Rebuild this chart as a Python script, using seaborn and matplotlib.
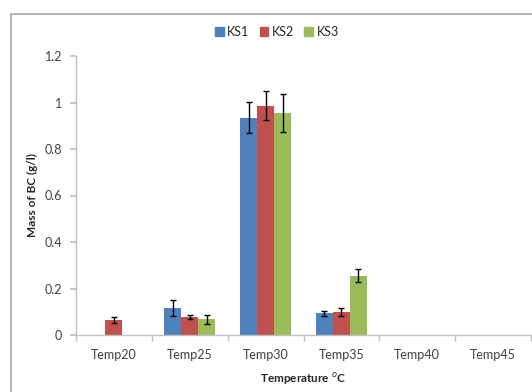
import pandas as pd
import matplotlib.pyplot as plt
import seaborn as sns
from matplotlib.lines import Line2D

# Values
temps = ['Temp20', 'Temp25', 'Temp30', 'Temp35', 'Temp40', 'Temp45']
ks1 = [None, 0.116, 0.935, 0.093, None, None]
ks2 = [0.065, 0.077, 0.986, 0.099, None, None]
ks3 = [None, 0.067, 0.955, 0.255, None, None]
ks1_err = [None, 0.033, 0.067, 0.011, None, None]
ks2_err = [0.012, 0.010, 0.062, 0.016, None, None]
ks3_err = [None, 0.021, 0.080, 0.028, None, None]

series = ['KS1', 'KS2', 'KS3']
colors = ['#4F81BD', '#C0504D', '#9BBB59']

rows = []
for name, vals, errs in zip(series, [ks1, ks2, ks3], [ks1_err, ks2_err, ks3_err]):
    for t, v, e in zip(temps, vals, errs):
        if v is not None:
            rows.append({'Temp': t, 'Series': name, 'Mass': v, 'Err': e})
df = pd.DataFrame(rows)

sns.set_theme(style="white")
plt.rcParams['font.family'] = ['Lato', 'DejaVu Sans']

fig = plt.figure(figsize=(5.32, 3.92), dpi=100)
ax = fig.add_axes([76 / 532, 1 - 335 / 392, 455 / 532, 279 / 392])

sns.barplot(data=df, x='Temp', y='Mass', hue='Series', order=temps,
            hue_order=series, palette=colors, width=0.67, errorbar=None,
            linewidth=0, saturation=1, legend=False, ax=ax)

# error bars placed on the bars seaborn drew
for name, cont in zip(series, ax.containers):
    sub = df[df['Series'] == name]
    for bar in cont:
        cx = bar.get_x() + bar.get_width() / 2
        t = temps[int(round(cx))]
        r = sub[sub['Temp'] == t]
        if len(r) == 0:
            continue
        ax.errorbar(cx, r['Mass'].iloc[0], yerr=r['Err'].iloc[0], fmt='none',
                    ecolor='black', elinewidth=1, capsize=2.5, capthick=1)

ax.set_xlim(-0.5, 5.5)
ax.set_ylim(0, 1.2)
ax.set_yticks([0, 0.2, 0.4, 0.6, 0.8, 1.0, 1.2])
ax.set_yticklabels(['0', '0.2', '0.4', '0.6', '0.8', '1', '1.2'])
ax.set_xticks(range(len(temps)))
ax.set_xticklabels(temps)
ax.set_xticks([i - 0.5 for i in range(len(temps) + 1)], minor=True)
ax.tick_params(axis='x', which='major', length=0, pad=10, labelsize=9, colors='#404040')
ax.tick_params(axis='x', which='minor', length=4, direction='out', color='#BFBFBF', bottom=True)
ax.tick_params(axis='y', length=4, direction='out', color='#BFBFBF', left=True,
               labelsize=9, colors='#404040', pad=6)
for side in ['top', 'right']:
    ax.spines[side].set_visible(False)
for side in ['left', 'bottom']:
    ax.spines[side].set_color('#BFBFBF')
    ax.spines[side].set_linewidth(1)

ax.set_xlabel('Temperature $^{o}$C', fontsize=8.5, fontweight='bold', labelpad=7)
ax.set_ylabel('Mass of BC (g/l)', fontsize=8.5, fontweight='bold', labelpad=5)

handles = [plt.Rectangle((0, 0), 1, 1, color=c) for c in colors]
fig.legend(handles, series, loc='center', bbox_to_anchor=(277 / 532, 1 - 32 / 392),
           ncol=3, frameon=False, fontsize=9, handlelength=0.7, handleheight=0.7,
           handletextpad=0.3, columnspacing=0.8)

# outer chart frame
fig.add_artist(Line2D([11 / 532, 11 / 532], [0, 1 - 14 / 392], transform=fig.transFigure,
                      color='#A6A6A6', lw=1.2))
fig.add_artist(Line2D([11 / 532, 1], [1 - 14 / 392, 1 - 14 / 392], transform=fig.transFigure,
                      color='#A6A6A6', lw=1.2))

plt.savefig('out.png', dpi=100)
